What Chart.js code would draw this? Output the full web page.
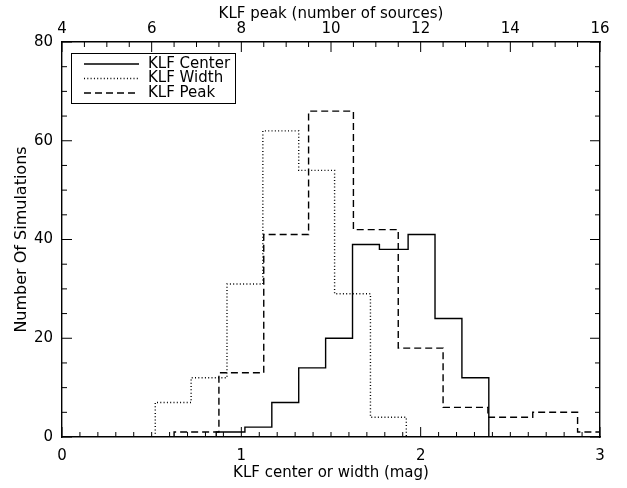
<!DOCTYPE html>
<html>
<head>
<meta charset="utf-8">
<script src="https://cdn.jsdelivr.net/npm/chart.js@4/dist/chart.umd.min.js"></script>
<style>
  html, body { margin: 0; padding: 0; background: #fff; }
  #wrap { width: 627px; height: 488px; }
</style>
</head>
<body>
<div id="wrap"><canvas id="klf" width="627" height="488"></canvas></div>
<script>
// histogram of KLF center (mag), bin edges + counts
let centerEdges = [0.86, 1.02, 1.17, 1.32, 1.47, 1.62, 1.77, 1.93, 2.08, 2.23, 2.38];
let centerCounts = [1, 2, 7, 14, 20, 39, 38, 41, 24, 12];

// histogram of KLF width (mag)
let widthEdges = [0.52, 0.72, 0.92, 1.12, 1.32, 1.52, 1.72, 1.92];
let widthCounts = [7, 12, 31, 62, 54, 29, 4];

// KLF peak (number of sources), one bin per integer
let peakSources = [7, 8, 9, 10, 11, 12, 13, 14, 15, 16];
let peakCounts = [1, 13, 41, 66, 42, 18, 6, 4, 5, 1];

let magTicks = [0, 1, 2, 3];
let sourceTicks = [4, 6, 8, 10, 12, 14, 16];
let countTicks = [0, 20, 40, 60, 80];

const FONT = "'DejaVu Sans', sans-serif";

function steps(edges, counts) {
  let pts = [{x: edges[0], y: 0}];
  counts.forEach(function(c, i) {
    pts.push({x: edges[i], y: c});
  });
  pts.push({x: edges[edges.length - 1], y: 0});
  return pts;
}

function mkset(label, pts, dash, axis) {
  return {
    label: label,
    data: pts,
    xAxisID: axis,
    yAxisID: 'y',
    borderColor: '#000',
    borderWidth: 1.4,
    borderDash: dash,
    stepped: 'before',
    pointRadius: 0,
    fill: false
  };
}

let peakEdges = peakSources.map(s => s - 0.5).concat([peakSources[peakSources.length - 1] + 0.5]);

// ticks drawn inward, IDL style
const inTicks = {
  id: 'inTicks',
  afterDatasetsDraw(chart) {
    const ctx = chart.ctx, a = chart.chartArea;
    ctx.save();
    ctx.strokeStyle = '#000';
    ctx.lineWidth = 1;
    function run(scale, step, minor, fn) {
      let n = Math.round((scale.max - scale.min) / minor);
      for (let i = 0; i <= n; i++) {
        let v = scale.min + i * minor;
        let major = Math.abs(v / step - Math.round(v / step)) < 1e-6;
        fn(scale.getPixelForValue(v), major ? 10 : 5);
      }
    }
    ctx.beginPath();
    run(chart.scales.x, 1, 0.1, (p, l) => { ctx.moveTo(p, a.bottom); ctx.lineTo(p, a.bottom - l); });
    run(chart.scales.x2, 2, 0.5, (p, l) => { ctx.moveTo(p, a.top); ctx.lineTo(p, a.top + l); });
    run(chart.scales.y, 20, 5, (p, l) => {
      ctx.moveTo(a.left, p); ctx.lineTo(a.left + l, p);
      ctx.moveTo(a.right, p); ctx.lineTo(a.right - l, p);
    });
    ctx.stroke();

    // legend box
    const bx = 71, by = 53, bw = 164, bh = 50;
    ctx.lineWidth = 1;
    ctx.strokeRect(bx + 0.5, by + 0.5, bw, bh);
    ctx.font = '15px ' + FONT;
    ctx.fillStyle = '#000';
    ctx.textBaseline = 'middle';
    chart.data.datasets.forEach(function(ds, i) {
      let y = by + 11 + i * 14.5;
      ctx.setLineDash(ds.borderDash);
      ctx.lineWidth = ds.borderWidth;
      ctx.beginPath();
      ctx.moveTo(84, y);
      ctx.lineTo(139, y);
      ctx.stroke();
      ctx.setLineDash([]);
      ctx.fillText(ds.label, 148, y);
    });
    ctx.restore();
  }
};

window.onload = function() {
  new Chart(document.getElementById('klf'), {
    type: 'line',
    data: {
      datasets: [
        mkset('KLF Center', steps(centerEdges, centerCounts), [], 'x'),
        mkset('KLF Width', steps(widthEdges, widthCounts), [1, 2.3], 'x'),
        mkset('KLF Peak', steps(peakEdges, peakCounts), [7, 4], 'x2')
      ]
    },
    options: {
      responsive: false,
      animation: false,
      layout: { padding: 0 },
      plugins: { legend: { display: false }, tooltip: { enabled: false } },
      scales: {
        x: {
          type: 'linear', position: 'bottom', min: 0, max: 3,
          afterFit: s => { s.height = 51; },
          afterBuildTicks: s => { s.ticks = magTicks.map(v => ({value: v})); },
          grid: { display: false, drawTicks: false },
          border: { color: '#000', width: 1.4 },
          ticks: { color: '#000', padding: 10, font: { family: FONT, size: 15 } },
          title: { display: true, text: 'KLF center or width (mag)', color: '#000',
                   font: { family: FONT, size: 15 }, padding: { top: 0, bottom: 6 } }
        },
        x2: {
          type: 'linear', position: 'top', min: 4, max: 16,
          afterFit: s => { s.height = 42; },
          afterBuildTicks: s => { s.ticks = sourceTicks.map(v => ({value: v})); },
          grid: { display: false, drawTicks: false },
          border: { color: '#000', width: 1.4 },
          ticks: { color: '#000', padding: 4, font: { family: FONT, size: 15 } },
          title: { display: true, text: 'KLF peak (number of sources)', color: '#000',
                   font: { family: FONT, size: 15 }, padding: { top: 5, bottom: 0 } }
        },
        y: {
          type: 'linear', position: 'left', min: 0, max: 80,
          afterFit: s => { s.width = 62; },
          afterBuildTicks: s => { s.ticks = countTicks.map(v => ({value: v})); },
          grid: { display: false, drawTicks: false },
          border: { color: '#000', width: 1.4 },
          ticks: { color: '#000', padding: 9, font: { family: FONT, size: 15 } },
          title: { display: true, text: 'Number Of Simulations', color: '#000',
                   font: { family: FONT, size: 16 }, padding: { top: 12, bottom: 0 } }
        },
        y2: {
          type: 'linear', position: 'right', min: 0, max: 80,
          afterFit: s => { s.width = 27; },
          grid: { display: false, drawTicks: false },
          border: { color: '#000', width: 1.4 },
          ticks: { display: false }
        }
      }
    },
    plugins: [inTicks]
  });
};
</script>
</body>
</html>
